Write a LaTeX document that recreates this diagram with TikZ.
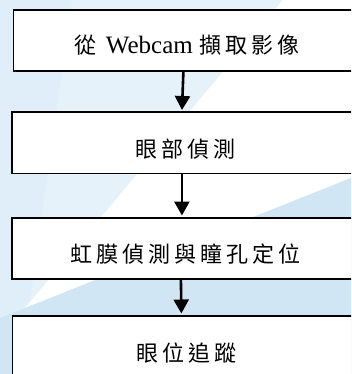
\documentclass[tikz,border=0pt]{standalone}
\usepackage{fontspec}
\setmainfont{Liberation Serif}
\newfontfamily\cjkfont{Noto Sans CJK TC}
\usetikzlibrary{arrows.meta}
\definecolor{bgA}{HTML}{E6F2FA}
\definecolor{bgB}{HTML}{DFEEF8}
\definecolor{bgD}{HTML}{D1E6F5}
\newcommand\cjc[1]{\makebox[26pt]{\fontsize{22}{26}\cjkfont #1}}
\begin{document}
\begin{tikzpicture}[x=1pt,y=-1pt,
  box/.style={draw=black,line width=1.8pt,fill=white,minimum width=348pt,minimum height=61pt,inner sep=0pt,anchor=north west},
  lbl/.style={font=\fontsize{25}{30}\selectfont,inner sep=0pt},
  arr/.style={line width=2.6pt,-{Triangle[width=15pt,length=14pt]},shorten >=1.5pt}]
\useasboundingbox (0,0) rectangle (351,374);
\clip (0,0) rectangle (351,374);
% background
\fill[bgA] (0,0) rectangle (351,374);
\fill[bgB] (0,0) -- (72,0) -- (30,300) -- (0,330) -- cycle;
\fill[white] (283,0) -- (351,0) -- (351,178) -- (25,308) -- cycle;
\fill[bgD] (351,178) -- (0,318) -- (0,374) -- (351,374) -- cycle;
% boxes
\node[box] (b1) at (12.5,9) {};
\node[box] (b2) at (11,111.5) {};
\node[box] (b3) at (11,217) {};
\node[box] (b4) at (11.5,315) {};
% labels
\node[lbl] (t1) at ([yshift=-5pt]b1.center) {\cjc{從}\hspace{7pt}Webcam\hspace{5pt}\cjc{擷}\cjc{取}\cjc{影}\cjc{像}};
\node[lbl] (t2) at ([yshift=-6pt]b2.center) {\cjc{眼}\cjc{部}\cjc{偵}\cjc{測}};
\node[lbl] (t3) at ([yshift=-6pt,xshift=-0.5pt]b3.center) {\cjc{虹}\cjc{膜}\cjc{偵}\cjc{測}\cjc{與}\cjc{瞳}\cjc{孔}\cjc{定}\cjc{位}};
\node[lbl] (t4) at ([yshift=-7pt]b4.center) {\cjc{眼}\cjc{位}\cjc{追}\cjc{蹤}};
% arrows
\draw[arr] ([xshift=-4pt]b1.south) -- ([xshift=-4pt]b2.north);
\draw[arr] ([xshift=-4pt]b2.south) -- ([xshift=-4pt]b3.north);
\draw[arr] ([xshift=-5pt]b3.south) -- ([xshift=-5pt]b4.north);
\end{tikzpicture}
\end{document}
